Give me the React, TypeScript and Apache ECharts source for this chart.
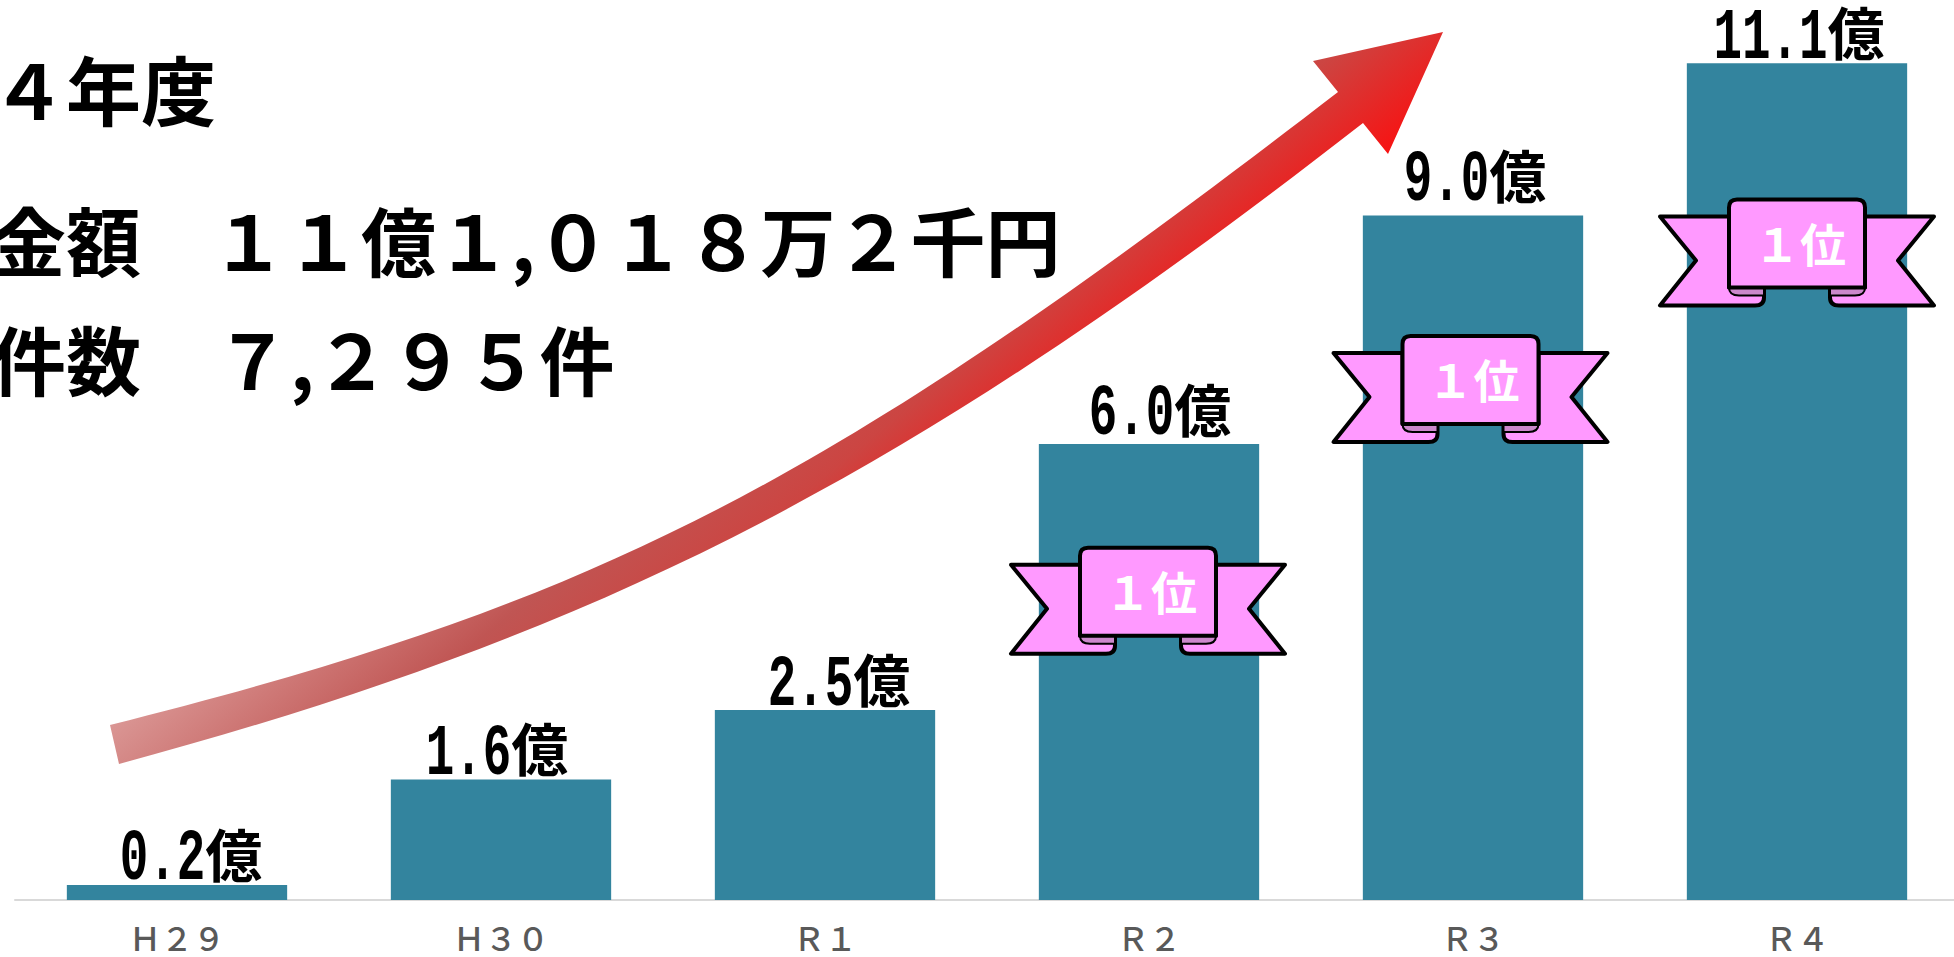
import React, { useEffect, useRef } from "react";
import * as echarts from "echarts";

const categories = ["Ｈ２９", "Ｈ３０", "Ｒ１", "Ｒ２", "Ｒ３", "Ｒ４"];
const amounts = [0.2, 1.6, 2.52, 6.05, 9.08, 11.1];
const amountTexts = ["0.2", "1.6", "2.5", "6.0", "9.0", "11.1"];
const amountUnit = "億";
const rankIndexes = [3, 4, 5];
const rankLevels = [3.97, 6.78, 8.59];
const rankText = "１位";
const yearText = "４年度";
const amountLabel = "金額";
const amountText = "１１億１,０１８万２千円";
const countLabel = "件数";
const countText = "７,２９５件";

const CJK = '"Noto Sans CJK JP"';
const MONO = '"Liberation Mono"';
const LABEL_NUDGE_X = [14, -4, 14, 11, 2, 2];
const LABEL_GAP_Y = [6, 6, 6, 10, 16, 6];
const RANK_NUDGE_X = [-1, -2.5, 0];
const DIGIT_PITCH = 28.5;
const UNIT_SIZE = 57;

const ARROW =
  "M110 725 C604 601.5 833 481 1338 92 L1313 61 L1443 32 L1388 154 L1363 123 C900 484 593 636 119 764 Z";
echarts.graphic.registerShape("riseArrow", (echarts.graphic as any).extendPath(ARROW, {}));

const WING_L = "M-137 -36 L-101 8 L-137 53 L-42 53 Q-33 53 -33 45 L-33 35 L-68 35 L-68 -36 Z";
const WING_R = "M137 -36 L101 8 L137 53 L42 53 Q33 53 33 45 L33 35 L68 35 L68 -36 Z";
const ROLL_L = "M-68 35 Q-68 43 -58 43 L-33 43 L-33 35 Z";
const ROLL_R = "M68 35 Q68 43 58 43 L33 43 L33 35 Z";
const PANEL = "M-68 35 L-68 -45 Q-68 -53 -60 -53 L60 -53 Q68 -53 68 -45 L68 35 Z";

const PINK = "#ff99ff";
const DARK_PINK = "#cc88cc";

function renderRibbon(p: any, api: any) {
  const c = api.coord([api.value(0), api.value(1)]);
  const part = (d: string, fill: string, lineWidth = 4) => ({
    type: "path",
    shape: { pathData: d },
    style: { fill, stroke: "#000", lineWidth, lineJoin: "round" },
  });
  return {
    type: "group",
    x: c[0] + RANK_NUDGE_X[p.dataIndex],
    y: c[1],
    children: [
      part(WING_L, PINK),
      part(WING_R, PINK),
      part(ROLL_L, DARK_PINK, 2),
      part(ROLL_R, DARK_PINK, 2),
      part(PANEL, PINK),
      {
        type: "text",
        x: 3,
        y: -11,
        style: {
          text: rankText,
          fontSize: 46,
          fontWeight: "bold",
          fontFamily: CJK,
          fill: "#fff",
          textAlign: "center",
          textVerticalAlign: "middle",
        },
      },
    ],
  };
}

function renderAmountLabel(p: any, api: any) {
  const i = p.dataIndex;
  const c = api.coord([api.value(0), api.value(1)]);
  const text = amountTexts[i];
  const digitsWidth = text.length * DIGIT_PITCH;
  const total = digitsWidth + UNIT_SIZE;
  const left = -total / 2 + LABEL_NUDGE_X[i];
  return {
    type: "group",
    x: c[0],
    y: c[1] - LABEL_GAP_Y[i] - 24,
    children: [
      {
        type: "text",
        x: left,
        y: 5,
        scaleX: DIGIT_PITCH / 43.2,
        style: {
          text,
          fontSize: 72,
          fontWeight: "bold",
          fontFamily: MONO,
          fill: "#000",
          textAlign: "left",
          textVerticalAlign: "middle",
        },
      },
      {
        type: "text",
        x: left + digitsWidth,
        y: -3,
        style: {
          text: amountUnit,
          fontSize: UNIT_SIZE,
          fontWeight: "bold",
          fontFamily: CJK,
          fill: "#000",
          textAlign: "left",
          textVerticalAlign: "middle",
        },
      },
    ],
  };
}

function headline(text: string, x: number, y: number) {
  return {
    type: "text",
    x,
    y,
    z: 5,
    style: {
      text,
      fontSize: 75,
      fontWeight: "bold",
      fontFamily: CJK,
      fill: "#000",
      textAlign: "left",
      textVerticalAlign: "middle",
    },
  };
}

export default function App() {
  const ref = useRef<HTMLDivElement>(null);
  useEffect(() => {
    document.body.style.margin = "0";
    document.body.style.overflow = "hidden";
    const chart = echarts.init(ref.current!, null, { renderer: "svg" });
    chart.setOption({
      animation: false,
      backgroundColor: "#fff",
      grid: { left: 15, top: 0, width: 1944, height: 900, containLabel: false, outerBoundsMode: "none" },
      xAxis: {
        type: "category",
        data: categories,
        axisTick: { show: false },
        axisLine: { lineStyle: { color: "#d9d9d9", width: 2 } },
        axisLabel: { color: "#595959", fontSize: 32, fontWeight: 500, lineHeight: 32, fontFamily: CJK, margin: 21 },
      },
      yAxis: { type: "value", min: 0, max: 11.94, show: false, splitLine: { show: false } },
      series: [
        {
          type: "bar",
          data: amounts,
          barWidth: "68%",
          itemStyle: { color: "#33849e" },
        },
        {
          type: "custom",
          coordinateSystem: "cartesian2d",
          renderItem: renderAmountLabel,
          encode: { x: 0, y: 1 },
          data: amounts.map((v, i) => [i, v]),
          z: 9,
          silent: true,
        },
        {
          type: "custom",
          coordinateSystem: "cartesian2d",
          renderItem: renderRibbon,
          encode: { x: 0, y: 1 },
          data: rankIndexes.map((i, k) => [i, rankLevels[k]]),
          z: 10,
          silent: true,
        },
      ],
      graphic: [
        {
          type: "riseArrow",
          x: 0,
          y: 0,
          z: 4,
          silent: true,
          style: {
            fill: new echarts.graphic.LinearGradient(
              110,
              725,
              353,
              1017,
              [
                { offset: 0, color: "#da9694" },
                { offset: 0.45, color: "#c05553" },
                { offset: 0.7, color: "#cc4542" },
                { offset: 1, color: "#f81212" },
              ],
              true
            ),
          },
        },
        headline(yearText, -9, 87),
        headline(amountLabel, -9, 238),
        headline(amountText, 211, 238),
        headline(countLabel, -9, 357),
        headline(countText, 215, 357),
      ],
    });
    return () => chart.dispose();
  }, []);
  return <div ref={ref} style={{ width: 1954, height: 957 }} />;
}
